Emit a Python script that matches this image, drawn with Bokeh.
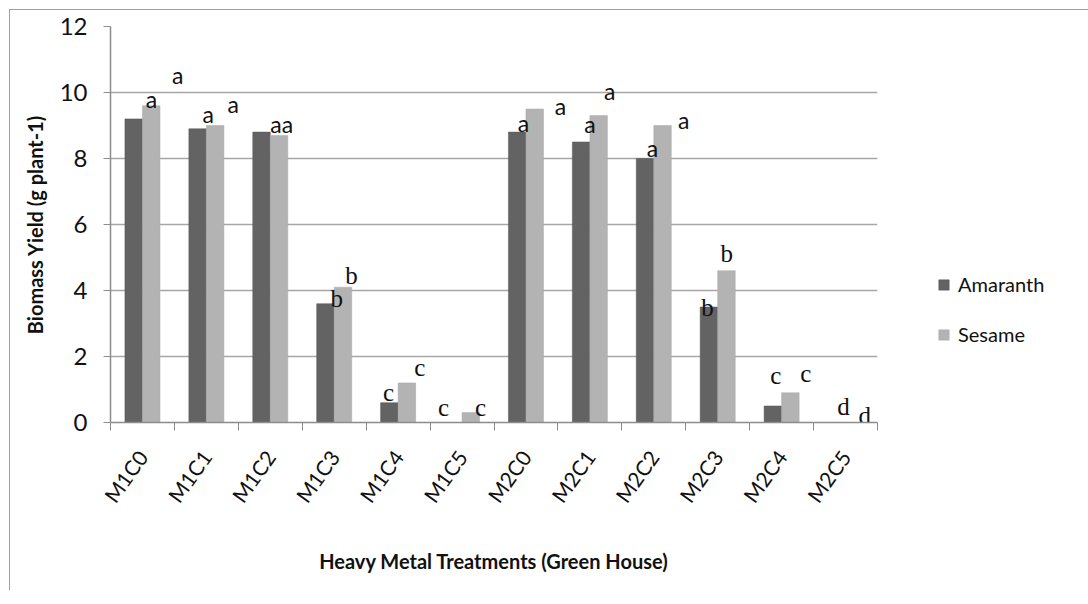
import math
from bokeh.plotting import figure
from bokeh.models import ColumnDataSource, FixedTicker, Legend, LegendItem, Range1d
from bokeh.core.properties import value
from bokeh.embed import file_html
from bokeh.resources import INLINE

categories = ["M1C0", "M1C1", "M1C2", "M1C3", "M1C4", "M1C5",
              "M2C0", "M2C1", "M2C2", "M2C3", "M2C4", "M2C5"]
amaranth = [9.2, 8.9, 8.8, 3.6, 0.6, 0.0, 8.8, 8.5, 8.0, 3.5, 0.5, 0.0]
sesame = [9.6, 9.0, 8.7, 4.1, 1.2, 0.3, 9.5, 9.3, 9.0, 4.6, 0.9, 0.0]
y_ticks = [0, 2, 4, 6, 8, 10, 12]

# significance letters (sans "a" letters and serif b/c/d letters), placed as in the source
sans_text = ["a", "a", "a", "a", "aa", "a", "a", "a", "a", "a", "a"]
sans_x = [0.64, 1.05, 1.53, 1.92, 2.68, 6.46, 7.04, 7.50, 7.81, 8.48, 8.97]
sans_y = [9.79, 10.52, 9.36, 9.64, 9.06, 9.09, 9.58, 9.06, 10.06, 8.33, 9.18]
serif_text = ["b", "b", "c", "c", "c", "c", "b", "b", "c", "c", "d", "d"]
serif_x = [3.54, 3.77, 4.35, 4.84, 5.21, 5.79, 9.34, 9.64, 10.41, 10.88, 11.47, 11.80]
serif_y = [3.76, 4.45, 0.91, 1.67, 0.45, 0.45, 3.48, 5.12, 1.42, 1.48, 0.48, 0.21]

FONT = "Lato"
DARK = "#636363"
LIGHT = "#b3b3b3"
AXIS = "#8c8c8c"

centers = [i + 0.5 for i in range(len(categories))]
src = ColumnDataSource(dict(
    xa=[c - 0.137 for c in centers],
    xs=[c + 0.137 for c in centers],
    amaranth=amaranth, sesame=sesame))

p = figure(frame_width=767, frame_height=396,
           x_range=Range1d(0, 12), y_range=Range1d(0, 12),
           output_backend="svg", toolbar_location=None,
           min_border_left=100, min_border_top=16,
           min_border_bottom=168, min_border_right=190)
p.outline_line_color = None
p.styles = {"border-left": "1px solid #a0a0a0", "border-top": "1px solid #a0a0a0",
            "margin-left": "9px", "margin-top": "9px"}

ra = p.vbar(x="xa", top="amaranth", width=0.274, source=src,
            fill_color=DARK, line_color="#555555", line_width=0.5)
rs = p.vbar(x="xs", top="sesame", width=0.274, source=src,
            fill_color=LIGHT, line_color="#a8a8a8", line_width=0.5)

p.text(x=sans_x, y=sans_y, text=sans_text, text_align="center",
       text_baseline="middle", text_font=value(FONT),
       text_font_size="23px", text_color="#111111")
p.text(x=serif_x, y=serif_y, text=serif_text, text_align="center",
       text_baseline="middle", text_font=value("Liberation Serif"),
       text_font_size="25px", text_color="#111111")

# x axis
xa = p.xaxis[0]
xa.ticker = FixedTicker(ticks=centers, minor_ticks=list(range(13)))
xa.major_label_overrides = {c: cat for c, cat in zip(centers, categories)}
xa.major_tick_line_color = None
xa.minor_tick_line_color = AXIS
xa.minor_tick_out = 8
xa.minor_tick_in = 0
xa.axis_line_color = AXIS
xa.axis_line_width = 1.5
xa.major_label_orientation = 0.95
xa.major_label_standoff = 22
xa.major_label_text_font = FONT
xa.major_label_text_font_size = "21px"
xa.major_label_text_color = "#111111"
xa.axis_label = "Heavy Metal Treatments (Green House)"
xa.axis_label_text_font = FONT
xa.axis_label_text_font_style = "bold"
xa.axis_label_text_font_size = "20px"
xa.axis_label_standoff = 32
xa.axis_label_text_color = "#111111"

# y axis
ya = p.yaxis[0]
ya.ticker = FixedTicker(ticks=y_ticks)
ya.major_tick_out = 7
ya.major_tick_in = 0
ya.major_tick_line_color = AXIS
ya.minor_tick_line_color = None
ya.axis_line_color = AXIS
ya.axis_line_width = 1.5
ya.major_label_standoff = 16
ya.major_label_text_font = FONT
ya.major_label_text_font_size = "24px"
ya.major_label_text_color = "#111111"
ya.axis_label = "Biomass Yield (g plant-1)"
ya.axis_label_text_font = FONT
ya.axis_label_text_font_style = "bold"
ya.axis_label_text_font_size = "20px"
ya.axis_label_standoff = 10
ya.axis_label_text_color = "#111111"

p.xgrid.visible = False
p.ygrid.grid_line_color = "#a6a6a6"
p.ygrid.grid_line_width = 1.5

legend = Legend(items=[LegendItem(label="Amaranth", renderers=[ra]),
                       LegendItem(label="Sesame", renderers=[rs])],
                location=(60, 76))
legend.border_line_color = None
legend.background_fill_alpha = 0
legend.padding = 0
legend.margin = 0
legend.glyph_width = 13
legend.glyph_height = 13
legend.label_height = 24
legend.spacing = 26
legend.label_standoff = 8
legend.label_text_font = FONT
legend.label_text_font_size = "20px"
legend.label_text_color = "#111111"
p.add_layout(legend, "right")

open("out.html", "w").write(file_html(p, INLINE))
